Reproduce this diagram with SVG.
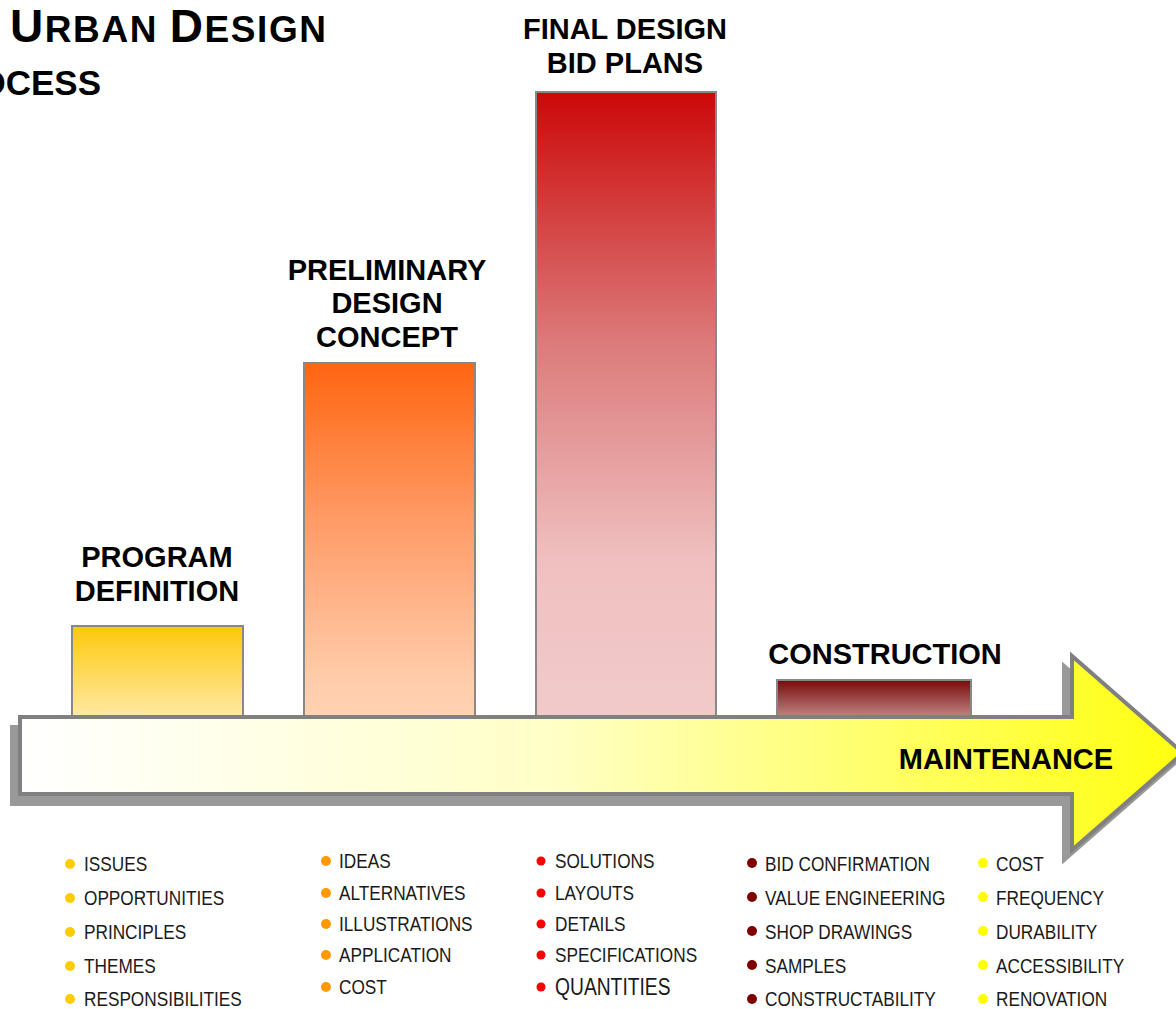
<svg xmlns="http://www.w3.org/2000/svg" width="1176" height="1009" viewBox="0 0 1176 1009">
<defs>
<linearGradient id="gBar1" x1="0" y1="0" x2="0" y2="1">
<stop offset="0" stop-color="#FFC80A"/>
<stop offset="1" stop-color="#FFEAA6"/>
</linearGradient>
<linearGradient id="gBar2" x1="0" y1="0" x2="0" y2="1">
<stop offset="0" stop-color="#FF6510"/>
<stop offset="0.45" stop-color="#FF9C68"/>
<stop offset="0.9" stop-color="#FFCDAC"/>
<stop offset="1" stop-color="#FFD2B2"/>
</linearGradient>
<linearGradient id="gBar3" x1="0" y1="0" x2="0" y2="1">
<stop offset="0" stop-color="#CC0808"/>
<stop offset="0.4" stop-color="#DC7A7A"/>
<stop offset="0.75" stop-color="#F0C0C0"/>
<stop offset="1" stop-color="#F2CACA"/>
</linearGradient>
<linearGradient id="gBar4" x1="0" y1="0" x2="0" y2="1">
<stop offset="0" stop-color="#780A0A"/>
<stop offset="1" stop-color="#C28888"/>
</linearGradient>
<linearGradient id="gArrow" gradientUnits="userSpaceOnUse" x1="20" y1="0" x2="1183" y2="0">
<stop offset="0" stop-color="#FFFFFF"/>
<stop offset="0.45" stop-color="#FFFFC8"/>
<stop offset="0.75" stop-color="#FFFF66"/>
<stop offset="0.92" stop-color="#FFFF2A"/>
<stop offset="1" stop-color="#FFFF10"/>
</linearGradient>
<style>
.bar{stroke:#888888;stroke-width:2}
.lbl{font-family:"Liberation Sans",Arial,sans-serif;font-weight:bold;font-size:29px;fill:#000;text-anchor:middle}
.title{font-family:"Liberation Sans",Arial,sans-serif;font-weight:bold;fill:#000}
.item{font-family:"Liberation Sans",Arial,sans-serif;font-size:21px;fill:#1a1a1a}
.big{font-size:23.5px}
.d1{fill:#FFCC00}.d2{fill:#FF9900}.d3{fill:#FF0000}.d4{fill:#800000}.d5{fill:#FFFF00}
</style>
</defs>
<rect width="1176" height="1009" fill="#FFFFFF"/>

<g id="title">
<text class="title" x="10" y="42" textLength="316" lengthAdjust="spacing"><tspan font-size="46">U</tspan><tspan font-size="37">RBAN </tspan><tspan font-size="46">D</tspan><tspan font-size="37">ESIGN</tspan></text>
<text class="title" x="101" y="95" font-size="35" text-anchor="end">PROCESS</text>
</g>

<g id="node-program-definition">
<rect class="bar" x="72" y="626" width="171" height="92" fill="url(#gBar1)"/>
<text class="lbl" x="157" y="567">PROGRAM</text>
<text class="lbl" x="157" y="601">DEFINITION</text>
</g>

<g id="node-preliminary-design">
<rect class="bar" x="304" y="363" width="171" height="355" fill="url(#gBar2)"/>
<text class="lbl" x="387" y="280">PRELIMINARY</text>
<text class="lbl" x="387" y="313">DESIGN</text>
<text class="lbl" x="387" y="347">CONCEPT</text>
</g>

<g id="node-final-design">
<rect class="bar" x="536" y="92" width="180" height="626" fill="url(#gBar3)"/>
<text class="lbl" x="625" y="39">FINAL DESIGN</text>
<text class="lbl" x="625" y="73">BID PLANS</text>
</g>

<g id="node-construction">
<rect class="bar" x="777" y="680" width="194" height="38" fill="url(#gBar4)"/>
<text class="lbl" x="885" y="664">CONSTRUCTION</text>
</g>

<g id="connectors">
<g id="timeline-arrow">
<polygon points="12,727 1064,727 1064,666 1175,763 1064,860 1064,804 12,804" fill="#999999" stroke="#999999" stroke-width="4" stroke-linejoin="miter"/>
<polygon points="20,717 1072,717 1072,656 1183,753 1072,850 1072,794 20,794" fill="url(#gArrow)" stroke="#808080" stroke-width="4" stroke-linejoin="miter"/>
<text class="lbl" x="1006" y="769">MAINTENANCE</text>
</g>
</g>

<g id="list-program">
<circle class="d1" cx="70" cy="864" r="5"/><text class="item" transform="translate(84 871) scale(0.82 1)">ISSUES</text>
<circle class="d1" cx="70" cy="898" r="5"/><text class="item" transform="translate(84 905) scale(0.82 1)">OPPORTUNITIES</text>
<circle class="d1" cx="70" cy="932" r="5"/><text class="item" transform="translate(84 939) scale(0.82 1)">PRINCIPLES</text>
<circle class="d1" cx="70" cy="966" r="5"/><text class="item" transform="translate(84 973) scale(0.82 1)">THEMES</text>
<circle class="d1" cx="70" cy="999" r="5"/><text class="item" transform="translate(84 1006) scale(0.82 1)">RESPONSIBILITIES</text>
</g>

<g id="list-preliminary">
<circle class="d2" cx="326" cy="861" r="5"/><text class="item" transform="translate(339 868) scale(0.82 1)">IDEAS</text>
<circle class="d2" cx="326" cy="893" r="5"/><text class="item" transform="translate(339 900) scale(0.82 1)">ALTERNATIVES</text>
<circle class="d2" cx="326" cy="924" r="5"/><text class="item" transform="translate(339 931) scale(0.82 1)">ILLUSTRATIONS</text>
<circle class="d2" cx="326" cy="955" r="5"/><text class="item" transform="translate(339 962) scale(0.82 1)">APPLICATION</text>
<circle class="d2" cx="326" cy="987" r="5"/><text class="item" transform="translate(339 994) scale(0.82 1)">COST</text>
</g>

<g id="list-final">
<circle class="d3" cx="541" cy="861" r="4.5"/><text class="item" transform="translate(555 868) scale(0.82 1)">SOLUTIONS</text>
<circle class="d3" cx="541" cy="893" r="4.5"/><text class="item" transform="translate(555 900) scale(0.82 1)">LAYOUTS</text>
<circle class="d3" cx="541" cy="924" r="4.5"/><text class="item" transform="translate(555 931) scale(0.82 1)">DETAILS</text>
<circle class="d3" cx="541" cy="955" r="4.5"/><text class="item" transform="translate(555 962) scale(0.82 1)">SPECIFICATIONS</text>
<circle class="d3" cx="541" cy="987" r="4.5"/><text class="item big" transform="translate(555 995) scale(0.82 1)">QUANTITIES</text>
</g>

<g id="list-construction">
<circle class="d4" cx="752" cy="863" r="5"/><text class="item" transform="translate(765 871) scale(0.82 1)">BID CONFIRMATION</text>
<circle class="d4" cx="752" cy="897" r="5"/><text class="item" transform="translate(765 905) scale(0.82 1)">VALUE ENGINEERING</text>
<circle class="d4" cx="752" cy="931" r="5"/><text class="item" transform="translate(765 939) scale(0.82 1)">SHOP DRAWINGS</text>
<circle class="d4" cx="752" cy="965" r="5"/><text class="item" transform="translate(765 973) scale(0.82 1)">SAMPLES</text>
<circle class="d4" cx="752" cy="999" r="5"/><text class="item" transform="translate(765 1006) scale(0.82 1)">CONSTRUCTABILITY</text>
</g>

<g id="list-maintenance">
<circle class="d5" cx="983" cy="863" r="5"/><text class="item" transform="translate(996 871) scale(0.82 1)">COST</text>
<circle class="d5" cx="983" cy="897" r="5"/><text class="item" transform="translate(996 905) scale(0.82 1)">FREQUENCY</text>
<circle class="d5" cx="983" cy="931" r="5"/><text class="item" transform="translate(996 939) scale(0.82 1)">DURABILITY</text>
<circle class="d5" cx="983" cy="965" r="5"/><text class="item" transform="translate(996 973) scale(0.82 1)">ACCESSIBILITY</text>
<circle class="d5" cx="983" cy="999" r="5"/><text class="item" transform="translate(996 1006) scale(0.82 1)">RENOVATION</text>
</g>
</svg>
